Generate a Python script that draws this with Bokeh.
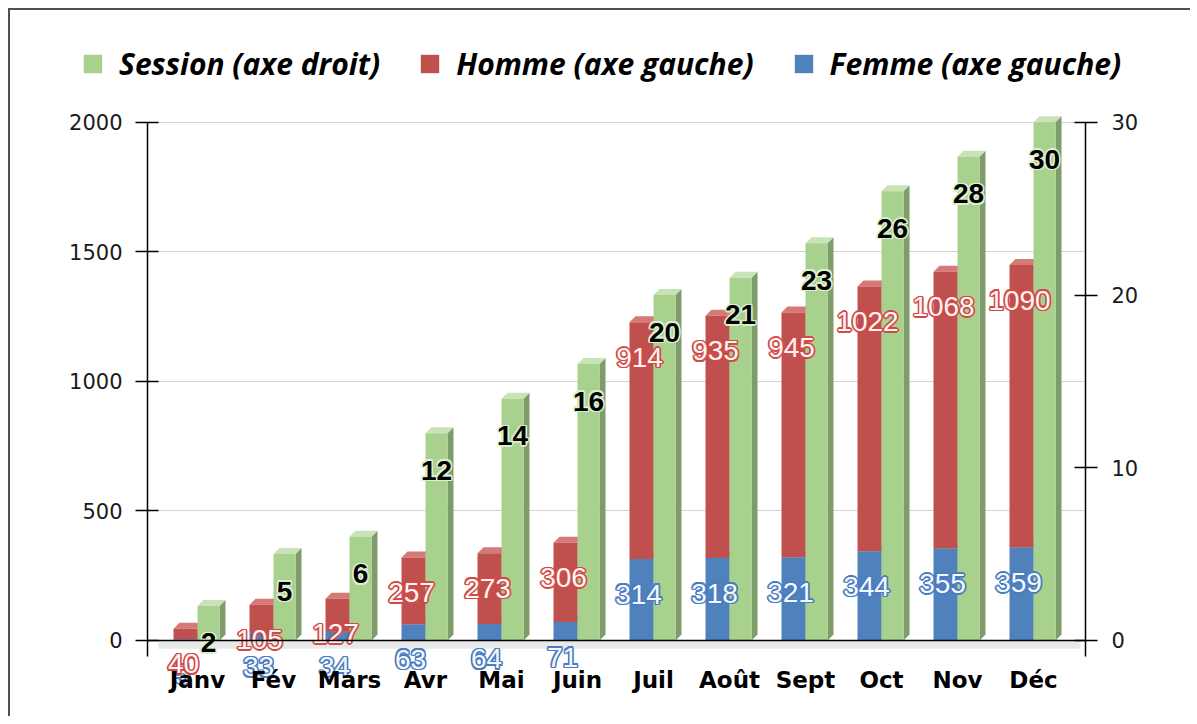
from bokeh.plotting import figure
from bokeh.layouts import column
from bokeh.models import (Range1d, LinearAxis, FixedTicker, Span, Legend, LegendItem)
from bokeh.core.properties import value
from bokeh.embed import file_html
from bokeh.resources import INLINE

# ---------------- data ----------------
months = ["Janv", "Fév", "Mars", "Avr", "Mai", "Juin", "Juil", "Août", "Sept", "Oct", "Nov", "Déc"]
femme = [5, 33, 34, 63, 64, 71, 314, 318, 321, 344, 355, 359]
homme = [40, 105, 127, 257, 273, 306, 914, 935, 945, 1022, 1068, 1090]
session = [2, 5, 6, 12, 14, 16, 20, 21, 23, 26, 28, 30]
left_ticks = [0, 500, 1000, 1500, 2000]
right_ticks = [0, 10, 20, 30]
legend_labels = ["Session (axe droit)", "Homme (axe gauche)", "Femme (axe gauche)"]

# ---------------- styling / geometry ----------------
GREEN, GREEN_TOP, GREEN_SIDE = "#a9d18e", "#c8e3b6", "#7f9c6b"
RED, RED_TOP, RED_SIDE = "#c0504d", "#d57a77", "#8d3a38"
BLUE, BLUE_TOP, BLUE_SIDE = "#4f81bd", "#7ba2d2", "#3a6194"

PX = 76.0                      # pixels per category
LMAX, RMAX = 2000.0, 30.0
PXY = 518.0 / LMAX             # px per left unit
Y_LO, Y_HI = -251.0, 2030.0
R_LO, R_HI = Y_LO * RMAX / LMAX, Y_HI * RMAX / LMAX
DX = 6 / PX
DYL = 6 / PXY
DYR = DYL * RMAX / LMAX
W_RB = 24 / PX
W_G = 22 / PX
CAT_LABEL_Y = -154
RING = [(-1.6, 0), (1.6, 0), (0, -1.6), (0, 1.6), (-1.2, -1.2), (1.2, 1.2), (-1.2, 1.2), (1.2, -1.2)]

idx = list(range(len(months)))
x_rb = [i - W_RB / 2 for i in idx]
x_g = [i + W_G / 2 for i in idx]

# ---------------- legend strip ----------------
lg = figure(width=1180, height=94, output_backend="svg", toolbar_location=None,
            x_range=Range1d(0, 1), y_range=Range1d(0, 1),
            x_axis_location=None, y_axis_location=None, min_border=0,
            outline_line_color=None, background_fill_color="white", border_fill_color="white")
lg.frame_align = False
lg.grid.visible = False
d_green = lg.vbar(x=[-5], top=[-5], width=0.1, fill_color=GREEN, line_color=None)
d_red = lg.vbar(x=[-5], top=[-5], width=0.1, fill_color=RED, line_color=None)
d_blue = lg.vbar(x=[-5], top=[-5], width=0.1, fill_color=BLUE, line_color=None)
legend = Legend(items=[LegendItem(label=legend_labels[0], renderers=[d_green]),
                       LegendItem(label=legend_labels[1], renderers=[d_red]),
                       LegendItem(label=legend_labels[2], renderers=[d_blue])],
                orientation="horizontal", location=(71, 20),
                glyph_width=23, glyph_height=23, label_standoff=15, spacing=38,
                label_text_font="Open Sans", label_text_font_size="30px",
                label_text_font_style="bold italic", label_text_color="black",
                border_line_color=None, background_fill_alpha=0, padding=0, margin=0)
lg.add_layout(legend, "center")

# ---------------- main chart ----------------
p = figure(width=1180, height=612, output_backend="svg", toolbar_location=None,
           x_range=Range1d(-0.658, 11.684), y_range=Range1d(Y_LO, Y_HI),
           x_axis_location=None, y_axis_location="left",
           min_border_left=137, min_border_right=105, min_border_top=10, min_border_bottom=11,
           outline_line_color=None, background_fill_color="white", border_fill_color="white")
p.frame_align = False
p.extra_y_ranges = {"right": Range1d(R_LO, R_HI)}

p.xgrid.visible = False
p.ygrid.ticker = FixedTicker(ticks=left_ticks)
p.ygrid.grid_line_color = "#d4d4d4"
p.ygrid.grid_line_width = 1

ax = p.yaxis[0]
ax.ticker = FixedTicker(ticks=left_ticks)
ax.bounds = (-60, LMAX)
ax.major_tick_in = 11
ax.major_tick_out = 12
ax.minor_tick_line_color = None
ax.axis_line_color = "black"
ax.axis_line_width = 1.5
ax.major_tick_line_width = 1.5
ax.major_label_text_font = "DejaVu Sans"
ax.major_label_text_font_size = "21px"
ax.major_label_text_color = "#1a1a1a"
ax.major_label_standoff = 13

rax = LinearAxis(y_range_name="right", ticker=FixedTicker(ticks=right_ticks),
                 bounds=(-0.9, RMAX))
rax.major_tick_in = 11
rax.major_tick_out = 12
rax.minor_tick_line_color = None
rax.axis_line_color = "black"
rax.axis_line_width = 1.5
rax.major_tick_line_width = 1.5
rax.major_label_text_font = "DejaVu Sans"
rax.major_label_text_font_size = "21px"
rax.major_label_text_color = "#1a1a1a"
rax.major_label_standoff = 14
p.add_layout(rax, "right")

# floor
p.quad(left=[-0.52], right=[11.62], bottom=[-32], top=[0], fill_color="#e9e9e9", line_color=None)


def faces(xc, w, bottoms, tops, dx, dy):
    top_xs, top_ys, side_xs, side_ys = [], [], [], []
    for c, b, t in zip(xc, bottoms, tops):
        x0, x1 = c - w / 2, c + w / 2
        top_xs.append([x0, x1, x1 + dx, x0 + dx])
        top_ys.append([t, t, t + dy, t + dy])
        side_xs.append([x1, x1 + dx, x1 + dx, x1])
        side_ys.append([b, b + dy, t + dy, t])
    return top_xs, top_ys, side_xs, side_ys


zeros = [0] * len(idx)
tot = [f + h for f, h in zip(femme, homme)]

txs, tys, sxs, sys_ = faces(x_rb, W_RB, zeros, femme, DX, DYL)
p.patches(sxs, sys_, fill_color=BLUE_SIDE, line_color=None)
p.patches(txs, tys, fill_color=BLUE_TOP, line_color=None)
p.vbar(x=x_rb, width=W_RB, bottom=0, top=femme, fill_color=BLUE, line_color=None)

txs, tys, sxs, sys_ = faces(x_rb, W_RB, femme, tot, DX, DYL)
p.patches(sxs, sys_, fill_color=RED_SIDE, line_color=None)
p.patches(txs, tys, fill_color=RED_TOP, line_color=None)
p.vbar(x=x_rb, width=W_RB, bottom=femme, top=tot, fill_color=RED, line_color=None)

txs, tys, sxs, sys_ = faces(x_g, W_G, zeros, session, DX, DYR)
p.patches(sxs, sys_, fill_color=GREEN_SIDE, line_color=None, y_range_name="right")
p.patches(txs, tys, fill_color=GREEN_TOP, line_color=None, y_range_name="right")
p.vbar(x=x_g, width=W_G, bottom=0, top=session, fill_color=GREEN, line_color=None,
       y_range_name="right")

p.add_layout(Span(location=0, dimension="width", line_color="black", line_width=1.5))


def outlined(xs, ys, texts, xo, yo, fill, ring_color, **kw):
    for ox, oy in RING:
        p.text(x=xs, y=ys, text=texts, x_offset=xo + ox, y_offset=yo + oy,
               text_align="center", text_baseline="middle", text_font=value("Liberation Sans"),
               text_font_size="28px", text_color=ring_color, **kw)
    p.text(x=xs, y=ys, text=texts, x_offset=xo, y_offset=yo,
           text_align="center", text_baseline="middle", text_font=value("Liberation Sans"),
           text_font_size="28px", text_color=fill, **kw)


outlined(idx, femme, [str(v) for v in femme], -15, 35, "#f4f8ff", "#4a7cc0")
outlined(idx, tot, [str(v) for v in homme], -14, 35, "#fff5f5", "#cf4b48")

for ox, oy in RING:
    p.text(x=idx, y=session, text=[str(v) for v in session], x_offset=11 + ox, y_offset=37 + oy,
           text_align="center", text_baseline="middle", text_font=value("Liberation Sans"),
           text_font_size="28px", text_font_style="bold", text_color="#dcefcf",
           y_range_name="right")
p.text(x=idx, y=session, text=[str(v) for v in session], x_offset=11, y_offset=37,
       text_align="center", text_baseline="middle", text_font=value("Liberation Sans"),
       text_font_size="28px", text_font_style="bold", text_color="black",
       y_range_name="right")

p.text(x=idx, y=[CAT_LABEL_Y] * len(idx), text=months, text_align="center",
       text_baseline="middle", text_font=value("DejaVu Sans"), text_font_size="23px",
       text_font_style="bold", text_color="black")

layout = column(lg, p, spacing=0,
                styles={"margin-left": "8px", "margin-top": "8px",
                        "border-left": "2px solid #505050", "border-top": "2px solid #505050"})

open("out.html", "w").write(file_html(layout, INLINE))
